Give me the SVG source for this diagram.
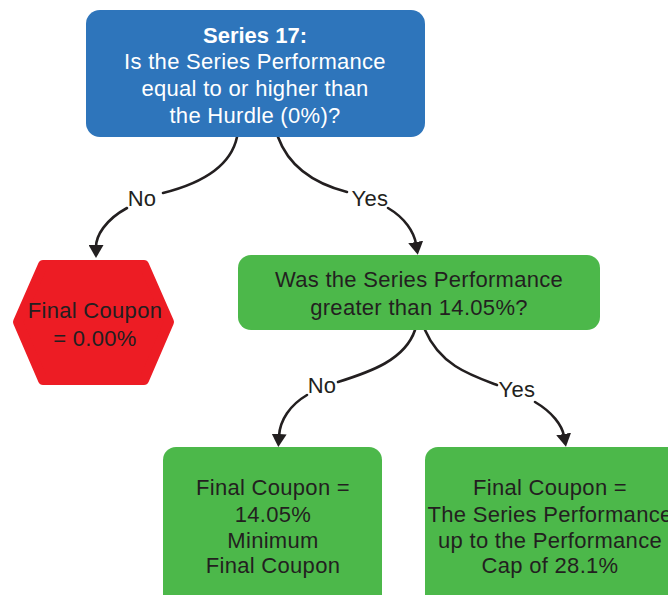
<svg xmlns="http://www.w3.org/2000/svg" width="668" height="595" viewBox="0 0 668 595">
<defs>
<style>
.t{font-family:"Liberation Sans",Arial,sans-serif;font-size:22px;fill:#231f20;text-anchor:middle;letter-spacing:0.3px}
.w{fill:#ffffff}
.b{font-weight:bold;letter-spacing:0}
.c{fill:none;stroke:#231f20;stroke-width:2.6;stroke-linecap:round}
.green{fill:#4cb84a}
</style>
<marker id="ah" viewBox="0 0 13 15" markerWidth="13" markerHeight="15" refX="2" refY="7.5" orient="auto" markerUnits="userSpaceOnUse">
<path d="M0,0 L13,7.5 L0,15 z" fill="#231f20"/>
</marker>
</defs>
<rect width="668" height="595" fill="#ffffff"/>
<g id="connectors">
<path class="c" d="M237,137 C230,170 195,185 163,193"/>
<path class="c" d="M127,208 C105,220 96,236 96,247" marker-end="url(#ah)"/>
<path class="c" d="M278,137 C290,170 320,185 347,192"/>
<path class="c" d="M388,208 C405,218 414,232 416,244" marker-end="url(#ah)"/>
<path class="c" d="M415,330 C405,360 370,372 338,382"/>
<path class="c" d="M307,395 C290,405 280,420 279,436" marker-end="url(#ah)"/>
<path class="c" d="M425,330 C440,365 470,375 497,385"/>
<path class="c" d="M535,402 C552,412 562,425 564,436" marker-end="url(#ah)"/>
<text class="t" x="142" y="206">No</text>
<text class="t" x="370" y="206">Yes</text>
<text class="t" x="322" y="393">No</text>
<text class="t" x="517" y="397">Yes</text>
</g>
<g id="q1">
<rect x="86" y="10" width="339" height="127" rx="14" fill="#2e75bb"/>
<text class="t w b" x="255" y="43">Series 17:</text>
<text class="t w" x="255" y="69">Is the Series Performance</text>
<text class="t w" x="255" y="96">equal to or higher than</text>
<text class="t w" x="255" y="123">the Hurdle (0%)?</text>
</g>
<g id="no1">
<polygon points="43,265 144,265 169,322 144,380 43,380 18,322" fill="#ed1c24" stroke="#ed1c24" stroke-width="10" stroke-linejoin="round"/>
<text class="t" x="95" y="318">Final Coupon</text>
<text class="t" x="95" y="346">= 0.00%</text>
</g>
<g id="q2">
<rect class="green" x="238" y="255" width="362" height="75" rx="13"/>
<text class="t" x="419" y="287">Was the Series Performance</text>
<text class="t" x="419" y="315">greater than 14.05%?</text>
</g>
<g id="no2">
<rect class="green" x="163" y="447" width="219" height="170" rx="13"/>
<text class="t" x="273" y="495">Final Coupon =</text>
<text class="t" x="273" y="522">14.05%</text>
<text class="t" x="273" y="548">Minimum</text>
<text class="t" x="273" y="573">Final Coupon</text>
</g>
<g id="yes2">
<rect class="green" x="425" y="447" width="270" height="170" rx="13"/>
<text class="t" x="550" y="495">Final Coupon =</text>
<text class="t" x="550" y="522">The Series Performance</text>
<text class="t" x="550" y="548">up to the Performance</text>
<text class="t" x="550" y="573">Cap of 28.1%</text>
</g>
</svg>
